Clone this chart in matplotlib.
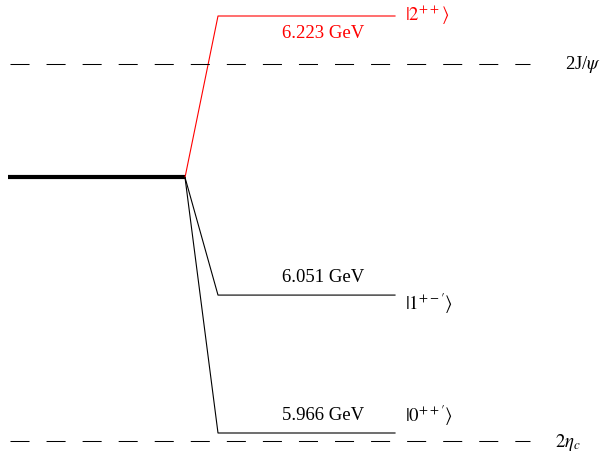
import matplotlib
matplotlib.use('Agg')
import matplotlib.pyplot as plt

plt.rcParams['font.family'] = ['Liberation Serif', 'DejaVu Serif']
plt.rcParams['mathtext.fontset'] = 'stix'

# levels (GeV)
start_mass = 6.1235
level_masses = [6.223, 6.051, 5.966]
level_kets = [r'$|2^{++}\rangle$', r'$|1^{+-\prime}\rangle$', r'$|0^{++\prime}\rangle$']
level_colors = ['red', 'black', 'black']
# thresholds
thresh_masses = [6.1935, 5.961]
thresh_labels = [r'2J/$\psi$', r'$2\eta_c$']

PX = 1622.6  # pixels per GeV on the vertical axis

def dy(px):
    return px / PX

fig = plt.figure(figsize=(6.03, 4.52), dpi=100)
ax = fig.add_axes([0, 0, 1, 1])
ax.set_xlim(0, 603)
ax.set_ylim(5.966 - dy(18), 6.223 + dy(17))
ax.axis('off')

# thick initial line
ax.plot([8, 185], [start_mass, start_mass], color='black', lw=3.0, solid_capstyle='butt')

ket_shift = [-2, 8, -18]  # pixels below the level line
for i, (m, ket, c) in enumerate(zip(level_masses, level_kets, level_colors)):
    ax.plot([185, 218, 395], [start_mass, m, m], color=c, lw=0.8)
    if i == 0:
        ty = m - dy(17)
    else:
        ty = m + dy(19)
    ax.text(323, ty, '%.3f GeV' % m, color=c, fontsize=13.5, ha='center', va='center')
    ax.text(405, m - dy(ket_shift[i]), ket, color=c, fontsize=13.5, ha='left', va='center')

for m, lab, tx in zip(thresh_masses, thresh_labels, [565, 555]):
    ax.plot([10, 530], [m, m], color='black', lw=0.75, dashes=(19 / 1.04, 17 / 1.04))
    ax.text(tx, m, lab, color='black', fontsize=13.5, ha='left', va='center')

fig.savefig('out.png', dpi=100)
